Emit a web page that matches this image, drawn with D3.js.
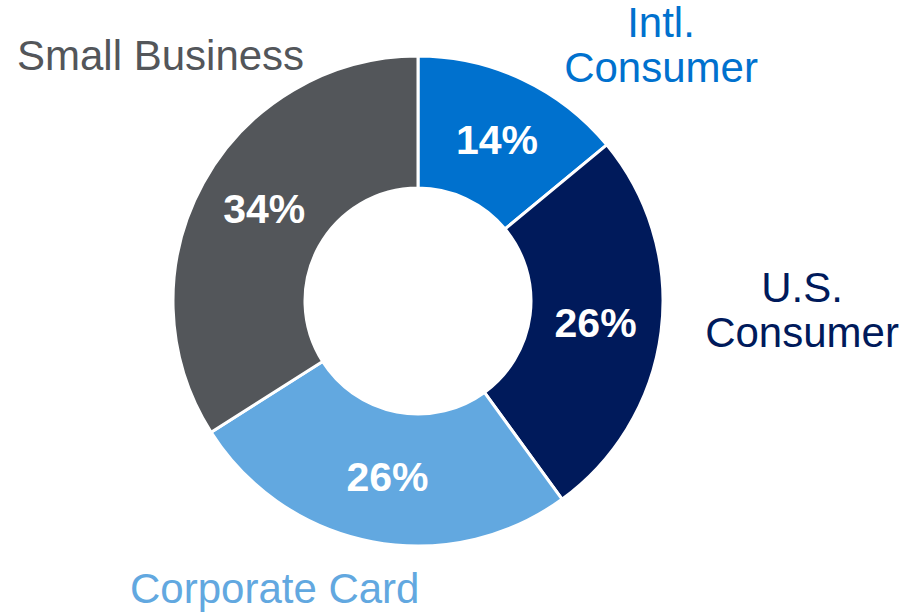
<!DOCTYPE html>
<html>
<head>
<meta charset="utf-8">
<script src="https://cdn.jsdelivr.net/npm/d3@7"></script>
<style>
  html, body { margin: 0; padding: 0; background: #ffffff; }
  svg { display: block; }
</style>
</head>
<body>
<svg id="chart" width="909" height="613"></svg>
<script>
// Segments, clockwise from 12 o'clock
const categories = ["Intl. Consumer", "U.S. Consumer", "Corporate Card", "Small Business"];
const shares = [14, 26, 26, 34];
const colors = ["#0071CE", "#001A5B", "#62A8E0", "#53565A"];
const nameLines = [["Intl.", "Consumer"], ["U.S.", "Consumer"], ["Corporate Card"], ["Small Business"]];

const svg = d3.select("#chart");
const cx = 418, cy = 301;
const outerR = 245, innerR = 113;

const data = categories.map((c, i) => ({ name: c, value: shares[i], color: colors[i], lines: nameLines[i] }));

const pie = d3.pie().value(d => d.value).sort(null);
const arcs = pie(data);
const arc = d3.arc().innerRadius(innerR).outerRadius(outerR);

const g = svg.append("g").attr("transform", `translate(${cx},${cy})`);

g.selectAll("path.slice")
  .data(arcs)
  .enter().append("path")
  .attr("class", "slice")
  .attr("d", arc)
  .attr("fill", d => d.data.color)
  .attr("stroke", "#ffffff")
  .attr("stroke-width", 3)
  .attr("stroke-linejoin", "round");

// Percentage labels inside the ring, at mid-angle of each segment
const labelR = 179;
const angleShift = [1, 0, -1, 2].map(a => a * Math.PI / 180);
g.selectAll("text.pct")
  .data(arcs)
  .enter().append("text")
  .attr("class", "pct")
  .attr("x", (d, i) => labelR * Math.sin((d.startAngle + d.endAngle) / 2 + angleShift[i]))
  .attr("y", (d, i) => -labelR * Math.cos((d.startAngle + d.endAngle) / 2 + angleShift[i]))
  .attr("text-anchor", "middle")
  .attr("dominant-baseline", "central")
  .attr("font-family", "'Liberation Sans', Arial, sans-serif")
  .attr("font-weight", "bold")
  .attr("font-size", 41)
  .attr("fill", "#ffffff")
  .text(d => d.data.value + "%");

// Category names outside the ring
const namePos = [
  { x: 661, y: 37, anchor: "middle" },
  { x: 802, y: 302, anchor: "middle" },
  { x: 130, y: 603, anchor: "start" },
  { x: 17, y: 70, anchor: "start" }
];
const lineGap = 45;
svg.selectAll("text.name")
  .data(data)
  .enter().append("text")
  .attr("class", "name")
  .attr("x", (d, i) => namePos[i].x)
  .attr("y", (d, i) => namePos[i].y)
  .attr("text-anchor", (d, i) => namePos[i].anchor)
  .attr("font-family", "'Liberation Sans', Arial, sans-serif")
  .attr("font-size", 42)
  .attr("fill", d => d.color)
  .each(function(d, i) {
    const t = d3.select(this);
    d.lines.forEach((line, k) => {
      t.append("tspan")
        .attr("x", namePos[i].x)
        .attr("dy", k === 0 ? 0 : lineGap)
        .text(line);
    });
  });
</script>
</body>
</html>
